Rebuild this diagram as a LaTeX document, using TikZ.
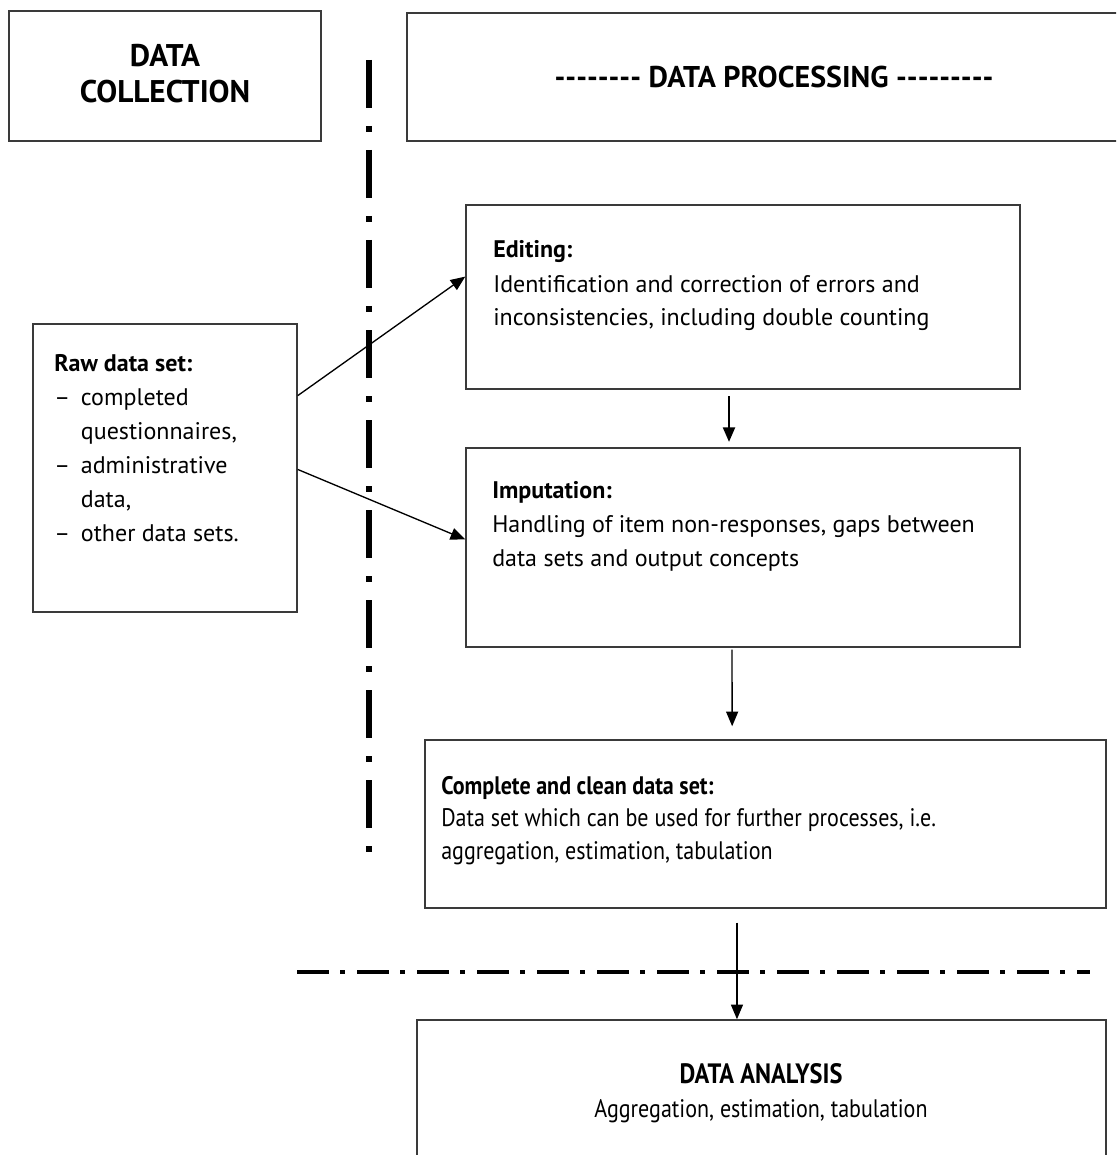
\documentclass[tikz,border=0pt]{standalone}
\usepackage{fontspec}
\setmainfont{PT Sans}
\newfontfamily\narrowfont[FakeStretch=0.87]{PT Sans}
\usetikzlibrary{arrows.meta,fit,calc}
\definecolor{frame}{HTML}{3A3A3A}
% a run of plain hyphens, kept apart so they do not join into dashes
\newcommand\hyrun[1]{\foreach \i in {1,...,#1}{-\kern0pt}}

\begin{document}
\begin{tikzpicture}[x=0.75pt,y=-0.75pt,
  box/.style={draw=frame,line width=1.1pt,inner sep=0pt,rectangle},
  headfont/.style={font=\fontsize{23.5}{27}\selectfont\bfseries,inner sep=0pt},
  bodytext/.style={font=\fontsize{18}{25.5}\selectfont,anchor=base west,inner sep=0pt,align=left},
  narrowtext/.style={font=\fontsize{19}{24.4}\narrowfont,anchor=base west,inner sep=0pt,align=left},
  arr/.style={-{Triangle[length=11pt,width=9pt]},line width=1pt,draw=black},
  vsep/.style={line width=4.5pt,line cap=butt,dash pattern=on 36pt off 13.5pt on 4.5pt off 13.5pt},
  hsep/.style={line width=3pt,line cap=butt,dash pattern=on 24pt off 8.5pt on 3.5pt off 9pt}]
\useasboundingbox (0,0) rectangle (1116,1155);
\fill[white] (0,0) rectangle (1116,1155);
\begin{scope}
\clip (0,0) rectangle (1116,1155);

% phase headings
\node[box,fit={(9,11) (321,141)}] (dc) {};
\node[headfont,anchor=base] (dctxt) at (165,67) {%
  \begin{tabular}[t]{@{}c@{}}DATA\\COLLECTION\end{tabular}};
\node[box,fit={(407,13) (1141,141)}] (dp) {};
\node[headfont,font=\fontsize{22.5}{27}\selectfont\bfseries,anchor=base] (dptxt) at (774,88)
  {\hyrun{8} DATA PROCESSING \hyrun{9}};

% separators between phases
\draw[vsep] (369,60) -- (369,852);
\draw[hsep] (297,972) -- (1090,972);

% raw data
\node[box,fit={(33,324) (297,612)}] (raw) {};
\node[bodytext] (rawtxt) at (54,371) {%
  \begin{tabular}[t]{@{}p{20pt}@{}l@{}}
  \multicolumn{2}{@{}l@{}}{\bfseries Raw data set:}\\
  –  & completed\\
     & questionnaires,\\
  –  & administrative\\
     & data,\\
  –  & other data sets.
  \end{tabular}};

% processing steps
\node[box,fit={(466,205) (1020,389)}] (edit) {};
\node[bodytext] (edittxt) at (493,258) {%
  \begin{tabular}[t]{@{}l@{}}
  \bfseries Editing:\\
  Identification and correction of errors and\\
  inconsistencies, including double counting
  \end{tabular}};

\node[box,fit={(466,448) (1020,647)}] (imp) {};
\node[bodytext] (imptxt) at (492,498) {%
  \begin{tabular}[t]{@{}l@{}}
  \bfseries Imputation:\\
  Handling of item non-responses, gaps between\\
  data sets and output concepts
  \end{tabular}};

\node[box,fit={(425,740) (1106,908)}] (clean) {};
\node[narrowtext] (cleantxt) at (441,794) {%
  \begin{tabular}[t]{@{}l@{}}
  \bfseries Complete and clean data set:\\
  Data set which can be used for further processes, i.e.\\
  aggregation, estimation, tabulation
  \end{tabular}};

% analysis
\node[box,fit={(417,1020) (1106,1175)}] (ana) {};
\node[anchor=base,inner sep=0pt,font=\fontsize{19}{25.5}\narrowfont] (anatxt) at (761,1083) {%
  \begin{tabular}[t]{@{}c@{}}
  {\fontsize{21}{25.5}\selectfont\bfseries DATA ANALYSIS}\\
  Aggregation, estimation, tabulation
  \end{tabular}};

% flow
\draw[arr] ($(raw.north east)!0.25!(raw.south east)$) -- ($(edit.north west)!0.39!(edit.south west)$);
\draw[arr] ($(raw.north east)!0.505!(raw.south east)$) -- ($(imp.north west)!0.46!(imp.south west)$);
\draw[arr,line width=1.8pt] ([xshift=-10.5pt,yshift=-5pt]edit.south) -- ([xshift=-10.5pt,yshift=4pt]imp.north);
\draw[arr] ([xshift=-8.25pt,yshift=-1.5pt]imp.south) -- ([xshift=-25pt,yshift=9.75pt]clean.north);
\draw[arr] ([xshift=-21.4pt,yshift=-10.5pt]clean.south) -- ([xshift=-18.4pt]ana.north);
\end{scope}
\end{tikzpicture}
\end{document}
